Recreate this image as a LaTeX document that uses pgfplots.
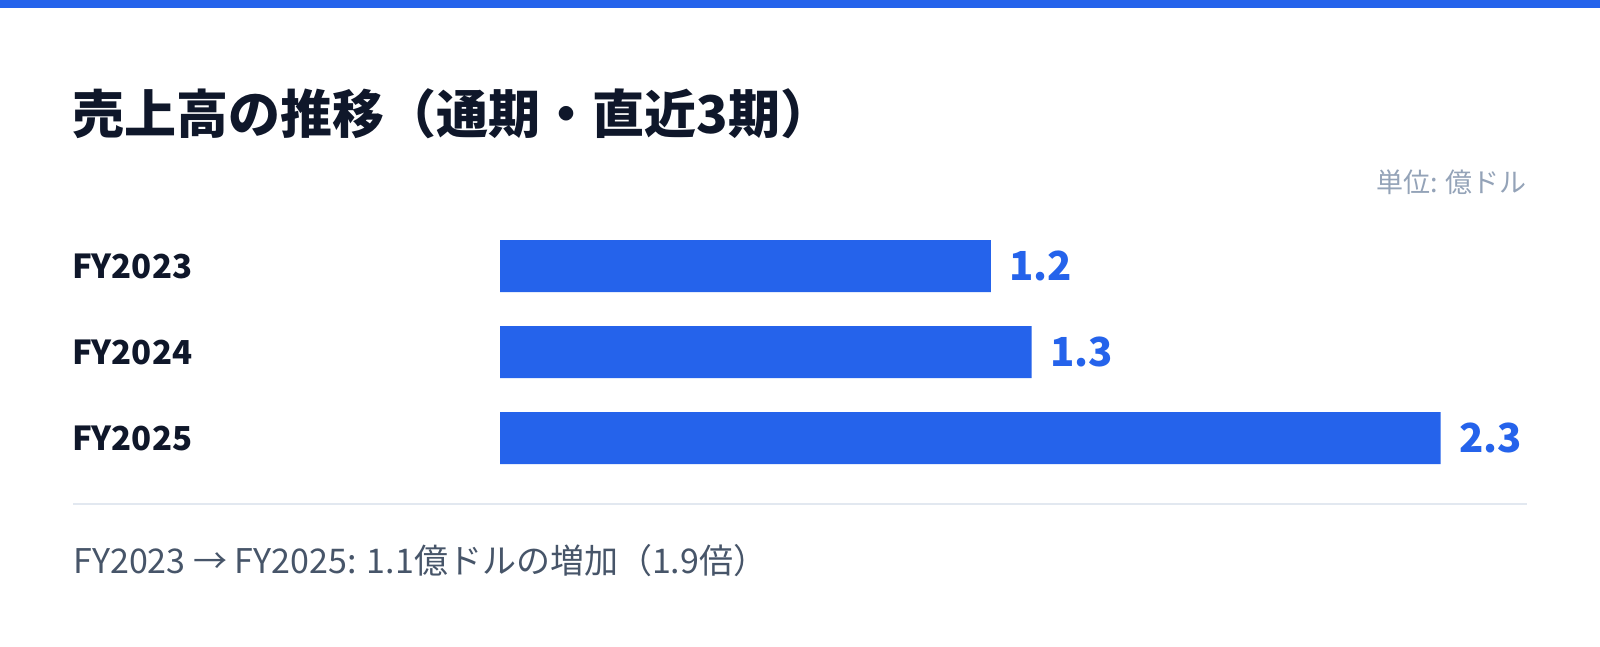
\documentclass[border=0pt]{standalone}
\usepackage{fontspec}
\setmainfont{Noto Sans CJK JP}
\usepackage{pgfplots}
\pgfplotsset{compat=1.18}

\definecolor{barblue}{HTML}{2563EB}
\definecolor{titlecol}{HTML}{0F172A}
\definecolor{unitgray}{HTML}{94A3B8}
\definecolor{footcol}{HTML}{475569}
\definecolor{rulecol}{HTML}{E2E8F0}

\begin{document}
\begin{tikzpicture}
  % page: 1600x647 px, 1px = 0.5pt
  \useasboundingbox (0,0) rectangle (800pt,323.5pt);
  \fill[white] (0,0) rectangle (800pt,323.5pt);
  \fill[barblue] (0,319.5pt) rectangle (800pt,323.5pt);

  \node[anchor=west, inner sep=0, text=titlecol, font=\fontsize{26}{31}\selectfont\bfseries]
    at (36pt,266.5pt) {売上高の推移（通期・直近3期）};
  \node[anchor=east, inner sep=0, text=unitgray, font=\fontsize{13.5}{16}\selectfont]
    at (763.5pt,232.5pt) {単位: 億ドル};

  \begin{axis}[
    at={(250pt,83pt)}, anchor=south west,
    xbar, bar width=26pt,
    x=204.5pt, y=43pt, y dir=reverse,
    xmin=0, xmax=2.5, ymin=-0.5, ymax=2.5,
    axis line style={draw=none},
    major tick length=0pt,
    xtick=\empty,
    ytick={0,1,2},
    yticklabels={FY2023,FY2024,FY2025},
    yticklabel style={anchor=west, inner sep=0, xshift=-214pt,
      text=titlecol, font=\fontsize{16.5}{20}\selectfont\bfseries},
    point meta=explicit symbolic,
    nodes near coords,
    nodes near coords style={anchor=west, inner sep=0, xshift=9pt,
      text=barblue, font=\fontsize{20}{24}\selectfont\bfseries},
    clip=false,
  ]
    \addplot[draw=none, fill=barblue] coordinates {
      (1.2,0) [1.2]
      (1.3,1) [1.3]
      (2.3,2) [2.3]
    };
  \end{axis}

  \draw[rulecol, line width=1pt] (36.5pt,71.5pt) -- (763.5pt,71.5pt);
  \node[anchor=west, inner sep=0, text=footcol, font=\fontsize{17}{20}\selectfont]
    at (36.5pt,43pt) {FY2023 → FY2025: 1.1億ドルの増加（1.9倍）};
\end{tikzpicture}
\end{document}
